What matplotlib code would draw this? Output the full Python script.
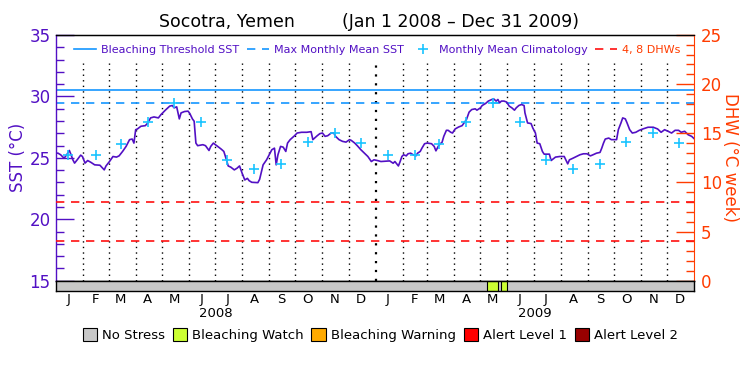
import numpy as np
import matplotlib
matplotlib.use('Agg')
import matplotlib.pyplot as plt
import matplotlib.transforms as mtransforms
from matplotlib.lines import Line2D
from matplotlib.patches import Patch

# days since 2008-01-01 and SST (deg C)
sst_day = [0, 2, 5, 9, 12, 15, 17, 19, 21, 24, 28, 30, 33, 36, 40, 44, 50, 55, 57, 61,
           65, 69, 72, 76, 80, 84, 87, 89, 91, 93, 97, 102, 105, 108, 112, 117, 120, 125, 130, 133,
           135, 138, 141, 143, 147, 151, 153, 156, 158, 160, 162, 168, 171, 175, 177, 180,
           185, 189, 192, 195, 197, 200, 204, 207, 210, 213, 216, 219, 221, 224, 231, 233, 237, 241,
           245, 247, 250, 252, 254, 257, 260, 263, 265, 268, 270, 273, 276, 281, 287, 292, 294, 296,
           299, 302, 305, 308, 311, 315, 318, 320, 324, 328, 332, 336, 338, 342, 345, 349, 353, 357,
           361, 364, 368,
           372, 382, 386, 388, 392, 394, 396, 398, 401, 403, 406, 409, 412, 414, 417, 419, 422, 425,
           430, 433, 435, 438, 440, 442, 444, 447, 449, 452, 454, 457, 461, 465, 470, 473, 476, 480,
           482, 486, 488, 492, 495, 499, 501, 504, 506, 508, 510, 513, 516, 519, 522, 525, 527, 530,
           533, 536, 537, 540, 544, 546, 549, 551, 554,
           557, 559, 565, 567, 569, 572, 577, 582, 586, 588, 592, 596, 600, 604, 608, 612, 615, 619,
           623, 625, 627, 629, 633, 636, 642, 644, 647, 649, 652, 654, 657, 660, 664, 668, 672, 678,
           684, 689, 693, 697, 701, 705, 709, 713, 716, 720, 724, 728, 731]
sst_val = [25.38, 25.38, 25.25, 24.97, 25.25, 25.60, 25.25, 24.84, 24.57, 24.84, 25.22, 25.11, 24.57, 24.78,
           24.62, 24.43, 24.40, 24.02, 24.34, 24.70,
           25.11, 25.06, 25.16, 25.52, 25.93, 26.48, 26.53, 26.20, 27.29, 27.35, 27.57, 27.62, 27.84, 28.25,
           28.33, 28.25, 28.52, 28.88, 29.21, 29.26,
           29.07, 29.15, 28.17, 28.66, 28.77, 28.80, 28.61, 28.17, 27.98, 26.20, 25.99, 26.07, 25.99, 25.60,
           25.93, 26.20,
           25.93, 25.71, 25.52, 24.84, 24.34, 24.24, 24.02, 24.15, 24.34, 23.74, 23.20, 23.33, 23.14, 23.01,
           22.98, 23.25, 24.43, 24.84,
           25.38, 25.66, 25.79, 24.43, 25.25, 25.93, 25.87, 25.52, 26.20, 26.48, 26.61, 26.80, 27.02, 27.08,
           27.08, 27.13, 26.48, 26.61,
           26.80, 26.97, 27.02, 26.75, 26.80, 27.02, 27.02, 26.75, 26.48, 26.34, 26.28, 26.48, 26.42, 26.20,
           25.98, 25.66, 25.38, 25.11,
           24.70, 24.84, 24.78,
           24.70, 24.75, 24.56, 24.70, 24.34, 24.70, 25.11, 25.25, 25.16, 25.33, 25.38, 25.25, 25.16, 25.38,
           25.52, 25.79, 26.15, 26.20,
           26.15, 25.93, 25.57, 25.98, 26.15, 26.26, 26.75, 27.24, 27.24, 27.08, 27.02, 27.35, 27.51, 27.62,
           28.12, 28.72, 28.93, 28.99,
           28.88, 29.07, 29.26, 29.43, 29.62, 29.75, 29.81, 29.62, 29.75, 29.48, 29.62, 29.62, 29.54, 29.21,
           29.07, 28.88, 29.07, 29.26,
           29.34, 29.26, 28.66, 27.84, 27.79, 27.43, 27.02, 26.20, 26.15,
           25.52, 25.30, 25.30, 24.78, 24.89, 25.06, 25.11, 25.11, 24.51, 24.84, 24.97, 25.11, 25.25, 25.33,
           25.33, 25.16, 25.25, 25.38,
           25.44, 25.79, 26.20, 26.53, 26.61, 26.48, 26.48, 27.29, 27.84, 28.25, 28.17, 27.84, 27.29, 27.02,
           27.08, 27.24, 27.35, 27.49,
           27.49, 27.35, 27.08, 27.29, 27.16, 27.02, 27.24, 27.24, 27.08, 27.16, 26.88, 26.75, 26.55]

clim_val = [25.2, 25.2, 26.1, 27.9, 29.5, 27.9, 24.8, 24.1, 24.5, 26.3, 27.0, 26.2]
threshold_sst = 30.5
mmm_sst = 29.5
dhw_levels = [4, 8]

# bleaching watch periods (days since 2008-01-01)
watch_start = [493, 510]
watch_end = [506, 517]

month_letters = ['J', 'F', 'M', 'A', 'M', 'J', 'J', 'A', 'S', 'O', 'N', 'D'] * 2
years = ['2008', '2009']
status_names = ['No Stress', 'Bleaching Watch', 'Bleaching Warning', 'Alert Level 1', 'Alert Level 2']
status_colors = ['#c8c8c8', '#ccff33', '#ffaa00', '#ff0000', '#990000']

purple = '#5210c4'
orange = '#ff3c00'
blue = '#1496ff'
cyan = '#19c3ff'

t0 = np.datetime64('2008-01-01')
months = np.arange('2008-01', '2010-01', dtype='datetime64[M]')
month_start = (months.astype('datetime64[D]') - t0).astype(int)
month_mid = month_start + 14
t_end = int((np.datetime64('2010-01-01') - t0).astype(int))

fig = plt.figure(figsize=(7.5, 3.75), dpi=100)
ax = fig.add_axes([0.075, 0.2515, 0.8507, 0.6552])
ax.set_xlim(0, t_end)
ax.set_ylim(15, 35)
ax2 = ax.twinx()
ax2.set_ylim(0, 25)

# month dividers stop below the key
for d in month_start[1:]:
    lw = 1.6 if d == 366 else 1.0
    ax.axvline(d, ymax=0.886, color='black', lw=lw, ls=(0, (1, 3)), zorder=1)

ax.axhline(threshold_sst, color=blue, lw=1.2, zorder=2)
ax.axhline(mmm_sst, color=blue, lw=1.2, ls=(0, (5, 4)), zorder=2)
for lev in dhw_levels:
    ax2.axhline(lev, color='#ff1010', lw=1.2, ls=(0, (5, 4)), zorder=2)

ax.plot(sst_day, sst_val, color=purple, lw=1.2, zorder=3)
ax.plot(month_mid, clim_val * 2, ls='none', marker='+', ms=7.5, mew=1.2, color=cyan, zorder=4)

ax.set_xticks([])
ax.set_yticks(np.arange(15, 36, 5))
ax.set_yticks(np.arange(15, 36, 1), minor=True)
ax.tick_params(axis='y', which='major', direction='in', length=13, width=1, colors=purple,
               labelsize=12, pad=4)
ax.tick_params(axis='y', which='minor', direction='in', length=6, width=1, colors=purple)
ax2.set_yticks(np.arange(0, 26, 5))
ax2.set_yticks(np.arange(0, 26, 1), minor=True)
ax2.tick_params(axis='y', which='major', direction='in', length=13, width=1, colors=orange,
                labelsize=12, pad=5)
ax2.tick_params(axis='y', which='minor', direction='in', length=6, width=1, colors=orange)

ax.spines['left'].set_color(purple)
ax2.spines['right'].set_color(orange)
ax2.spines['left'].set_visible(False)
for sp in ax.spines.values():
    sp.set_linewidth(1)
ax.spines['right'].set_visible(False)

ax.set_ylabel('SST (°C)', color=purple, fontsize=12, labelpad=2)
ax2.set_ylabel('DHW (°C week)', color=orange, fontsize=12, rotation=-90, labelpad=12)

fig.text(0.3027, 0.941, 'Socotra, Yemen', ha='center', va='center', fontsize=12.5)
fig.text(0.6145, 0.941, '(Jan 1 2008 – Dec 31 2009)', ha='center', va='center', fontsize=12.5)

handles = [Line2D([], [], color=blue, lw=1.2),
           Line2D([], [], color=blue, lw=1.2, ls=(0, (5, 4))),
           Line2D([], [], color=cyan, marker='+', ls='none', ms=7.5, mew=1.2),
           Line2D([], [], color='#ff1010', lw=1.2, ls=(0, (5, 4)))]
leg = ax.legend(handles, ['Bleaching Threshold SST', 'Max Monthly Mean SST', 'Monthly Mean Climatology',
                          '4, 8 DHWs'],
                loc='center', bbox_to_anchor=(0.503, 0.939), ncol=4, frameon=False, fontsize=8,
                handlelength=2.0, handletextpad=0.45, columnspacing=0.7, borderpad=0)
for txt, c in zip(leg.get_texts(), [purple, purple, purple, orange]):
    txt.set_color(c)
leg.set_zorder(5)

bar = fig.add_axes([0.075, 0.2515 - 0.0275, 0.8507, 0.0275])
bar.set_xlim(0, t_end)
bar.set_ylim(0, 1)
bar.axvspan(0, t_end, color=status_colors[0])
for s, e in zip(watch_start, watch_end):
    bar.axvspan(s, e, facecolor=status_colors[1], edgecolor='black', lw=0.8)
bar.set_yticks([])
bar.set_xticks(month_mid)
bar.set_xticklabels(month_letters, fontsize=9.5)
bar.tick_params(axis='x', length=0, pad=1.5)
for sp in bar.spines.values():
    sp.set_linewidth(1)

trans = mtransforms.blended_transform_factory(bar.transData, bar.transAxes)
year_mid = [(month_start[0] + month_start[12]) / 2, (month_start[12] + t_end) / 2]
for xm, yl in zip(year_mid, years):
    bar.text(xm, -2.2, yl, transform=trans, ha='center', va='center', fontsize=9.5)

patches = [Patch(facecolor=c, edgecolor='black', lw=0.8) for c in status_colors]
fig.legend(patches, status_names, loc='center', bbox_to_anchor=(0.507, 0.107), ncol=5, frameon=False,
           fontsize=9.5, handlelength=1.1, handleheight=1.1, handletextpad=0.35, columnspacing=0.6)

fig.savefig('out.png', dpi=100)
